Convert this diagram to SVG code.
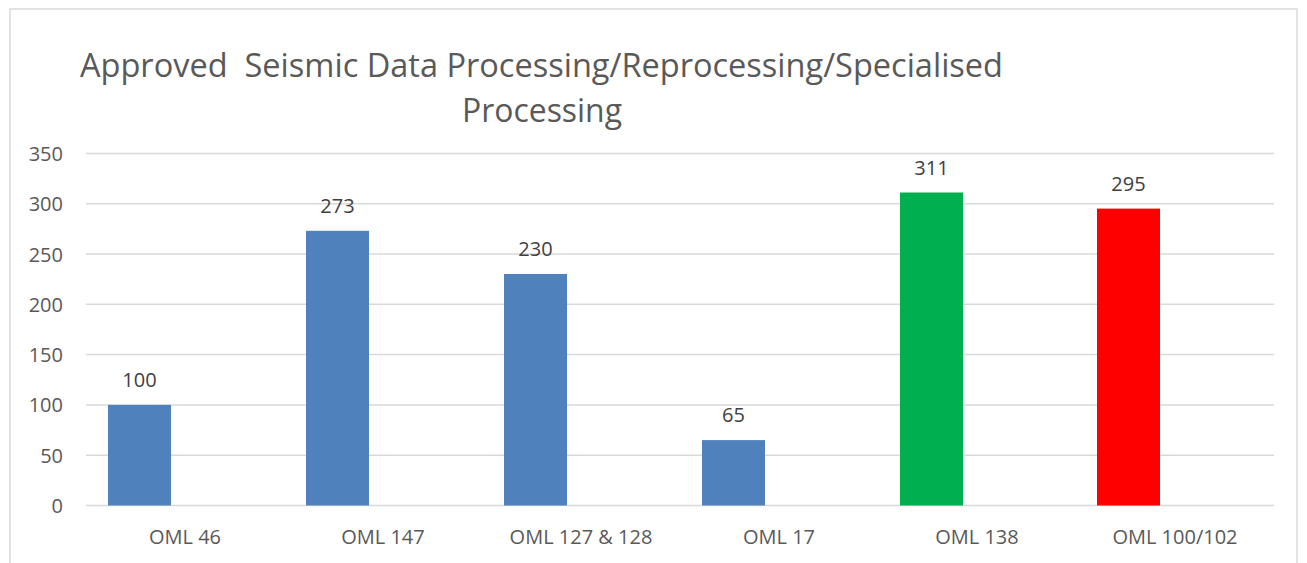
<svg xmlns="http://www.w3.org/2000/svg" width="1307" height="563" viewBox="0 0 1307 563">
<style>
.t{font-family:"Open Sans","Liberation Sans",sans-serif;fill:#595959}
.ax{font-size:20px;text-anchor:end}
.cat{font-size:20px;text-anchor:middle}
.dl{font-size:20px;text-anchor:middle;fill:#404040}
.grid line{stroke:#D9D9D9;stroke-width:1.5}
</style>
<rect x="0" y="0" width="1307" height="563" fill="#fff"/>
<rect x="10" y="9" width="1287" height="600" fill="#fff" stroke="#D9D9D9" stroke-width="1.5"/>
<g id="title">
<text class="t" x="80" y="77" font-size="32" textLength="923" lengthAdjust="spacingAndGlyphs" xml:space="preserve" style="white-space:pre">Approved  Seismic Data Processing/Reprocessing/Specialised</text>
<text class="t" x="462" y="122" font-size="32" textLength="160" lengthAdjust="spacingAndGlyphs">Processing</text>
</g>
<g class="grid" id="gridlines">
<line x1="86" y1="153.4" x2="1274" y2="153.4"/>
<line x1="86" y1="203.7" x2="1274" y2="203.7"/>
<line x1="86" y1="254" x2="1274" y2="254"/>
<line x1="86" y1="304.3" x2="1274" y2="304.3"/>
<line x1="86" y1="354.6" x2="1274" y2="354.6"/>
<line x1="86" y1="404.9" x2="1274" y2="404.9"/>
<line x1="86" y1="455.2" x2="1274" y2="455.2"/>
<line x1="86" y1="505.5" x2="1274" y2="505.5"/>
</g>
<g id="y-axis">
<text class="t ax" x="63" y="161">350</text>
<text class="t ax" x="63" y="211.2">300</text>
<text class="t ax" x="63" y="261.5">250</text>
<text class="t ax" x="63" y="311.8">200</text>
<text class="t ax" x="63" y="362.1">150</text>
<text class="t ax" x="63" y="412.4">100</text>
<text class="t ax" x="63" y="462.7">50</text>
<text class="t ax" x="63" y="513">0</text>
</g>
<g id="bar-oml46">
<rect x="108" y="404.9" width="63" height="100.6" fill="#4F81BD"/>
<text class="t dl" x="139.5" y="387">100</text>
<text class="t cat" x="185" y="544">OML 46</text>
</g>
<g id="bar-oml147">
<rect x="306" y="230.8" width="63" height="274.7" fill="#4F81BD"/>
<text class="t dl" x="337.5" y="212.8">273</text>
<text class="t cat" x="383" y="544">OML 147</text>
</g>
<g id="bar-oml127-128">
<rect x="504" y="274" width="63" height="231.5" fill="#4F81BD"/>
<text class="t dl" x="535.5" y="256">230</text>
<text class="t cat" x="581" y="544">OML 127 &amp; 128</text>
</g>
<g id="bar-oml17">
<rect x="702" y="440.1" width="63" height="65.4" fill="#4F81BD"/>
<text class="t dl" x="733.5" y="422.1">65</text>
<text class="t cat" x="779" y="544">OML 17</text>
</g>
<g id="bar-oml138">
<rect x="900" y="192.5" width="63" height="313" fill="#00B050"/>
<text class="t dl" x="931.5" y="174.5">311</text>
<text class="t cat" x="977" y="544">OML 138</text>
</g>
<g id="bar-oml100-102">
<rect x="1097" y="208.6" width="63" height="296.9" fill="#FF0000"/>
<text class="t dl" x="1128.5" y="190.5">295</text>
<text class="t cat" x="1175" y="544">OML 100/102</text>
</g>
</svg>
